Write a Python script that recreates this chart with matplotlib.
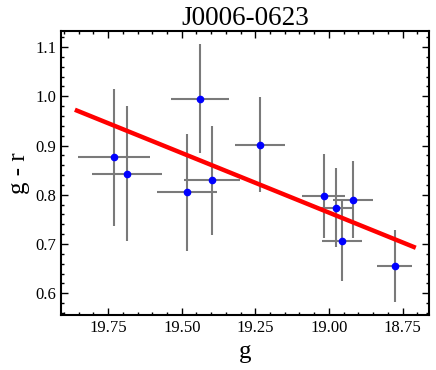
import numpy as np
import matplotlib
matplotlib.use('Agg')
import matplotlib.pyplot as plt
from matplotlib.ticker import MultipleLocator

# g magnitude, g-r colour and their errors
g_mag = [19.73, 19.687, 19.438, 19.483, 19.398, 19.234, 19.017, 18.975, 18.954, 18.918, 18.777]
g_err = [0.122, 0.119, 0.099, 0.102, 0.096, 0.085, 0.073, 0.057, 0.068, 0.068, 0.060]
gr_col = [0.876, 0.843, 0.995, 0.805, 0.829, 0.902, 0.797, 0.774, 0.707, 0.790, 0.655]
gr_err = [0.139, 0.137, 0.111, 0.119, 0.111, 0.097, 0.085, 0.081, 0.082, 0.078, 0.073]

# linear fit endpoints
fit_g = [19.856, 18.712]
fit_gr = [0.971, 0.694]

plt.rcParams['font.family'] = ['Liberation Serif', 'DejaVu Serif']

fig = plt.figure(figsize=(4.36, 3.70), dpi=100)
ax = fig.add_axes([0.140, 0.149, 0.844, 0.767])

# error bars first, then points, fit line on top of the bars
ax.errorbar(g_mag, gr_col, xerr=g_err, yerr=gr_err, fmt='none',
            ecolor='#7a7a7a', elinewidth=1.5, zorder=1)
ax.plot(g_mag, gr_col, 'o', color='blue', markersize=4.5, zorder=3)
ax.plot(fit_g, fit_gr, color='red', linewidth=3.2, zorder=2)

ax.set_xlim(19.91, 18.66)
ax.set_ylim(0.556, 1.1325)
ax.xaxis.set_major_locator(MultipleLocator(0.25))
ax.xaxis.set_minor_locator(MultipleLocator(0.05))
ax.yaxis.set_major_locator(MultipleLocator(0.1))
ax.yaxis.set_minor_locator(MultipleLocator(0.02))
ax.xaxis.set_major_formatter(matplotlib.ticker.FormatStrFormatter('%.2f'))
ax.yaxis.set_major_formatter(matplotlib.ticker.FormatStrFormatter('%.1f'))

ax.tick_params(which='both', direction='in', top=True, right=True, labelsize=12, width=1)
ax.tick_params(which='major', length=5)
ax.tick_params(which='minor', length=2.5)
for s in ax.spines.values():
    s.set_linewidth(1.5)

ax.set_xlabel('g', fontsize=18)
ax.set_ylabel('g - r', fontsize=18)
ax.set_title('J0006-0623', fontsize=19.5, pad=3)

fig.savefig('out.png', dpi=100)
